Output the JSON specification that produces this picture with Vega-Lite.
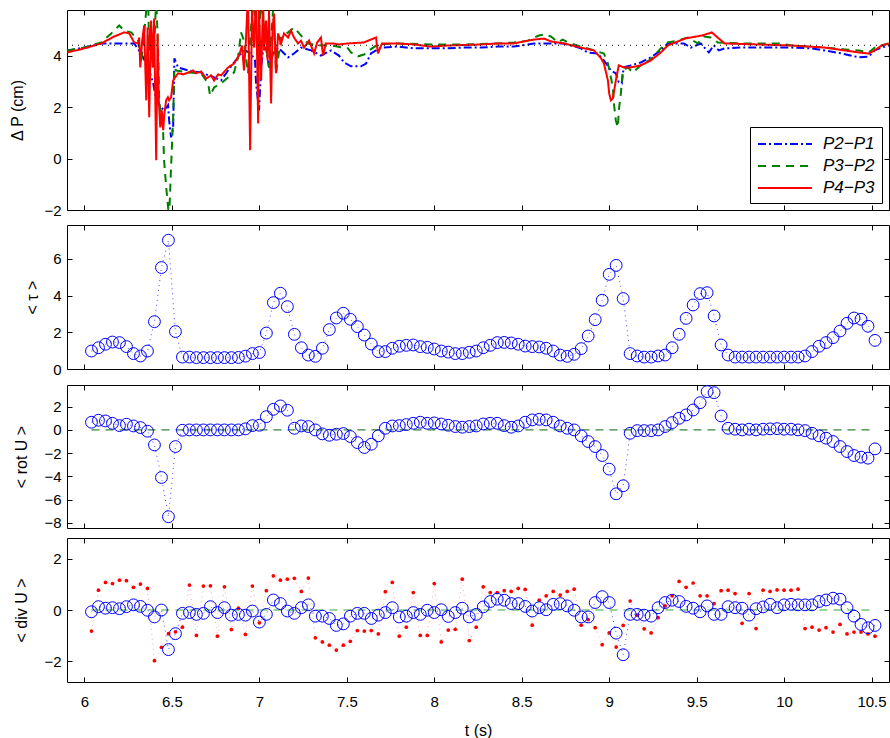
{
"$schema": "https://vega.github.io/schema/vega-lite/v6.json",
"padding": {"left": 8, "top": 9, "right": 1, "bottom": 2},
"config": {
 "font": "Liberation Sans",
 "view": {"stroke": "#000", "strokeWidth": 1},
 "concat": {"spacing": 5},
 "axis": {"grid": false, "domain": false, "ticks": true, "tickColor": "#000", "tickSize": -5, "tickWidth": 1, "labelColor": "#000", "labelFont": "Liberation Sans", "labelFontSize": 15, "labelFlush": false, "labelOverlap": false, "titleFont": "Liberation Sans", "titleFontSize": 16, "titleFontWeight": "normal", "titleColor": "#000", "format": "~g"},
 "axisX": {"labelPadding": 17, "titlePadding": 13},
 "axisY": {"labelPadding": 11, "titlePadding": 8}
},
"datasets": {
"p1": [
{"s":"P2−P1","t":5.901,"v":4.2},{"s":"P2−P1","t":6.0,"v":4.31},{"s":"P2−P1","t":6.095,"v":4.47},{"s":"P2−P1","t":6.21,"v":4.47},{"s":"P2−P1","t":6.284,"v":4.47},{"s":"P2−P1","t":6.324,"v":4.08},{"s":"P2−P1","t":6.364,"v":3.54},{"s":"P2−P1","t":6.393,"v":2.92},{"s":"P2−P1","t":6.41,"v":2.26},{"s":"P2−P1","t":6.438,"v":1.99},{"s":"P2−P1","t":6.455,"v":1.87},{"s":"P2−P1","t":6.478,"v":2.07},{"s":"P2−P1","t":6.484,"v":1.48},{"s":"P2−P1","t":6.495,"v":0.82},{"s":"P2−P1","t":6.507,"v":1.21},{"s":"P2−P1","t":6.514,"v":3.89},{"s":"P2−P1","t":6.535,"v":3.54},{"s":"P2−P1","t":6.593,"v":3.42},{"s":"P2−P1","t":6.667,"v":3.34},{"s":"P2−P1","t":6.741,"v":3.15},{"s":"P2−P1","t":6.781,"v":3.03},{"s":"P2−P1","t":6.821,"v":3.42},{"s":"P2−P1","t":6.855,"v":3.73},{"s":"P2−P1","t":6.895,"v":4.08},{"s":"P2−P1","t":6.918,"v":4.2},{"s":"P2−P1","t":6.952,"v":4.08},{"s":"P2−P1","t":6.975,"v":3.81},{"s":"P2−P1","t":6.981,"v":2.92},{"s":"P2−P1","t":6.998,"v":1.87},{"s":"P2−P1","t":7.01,"v":3.54},{"s":"P2−P1","t":7.021,"v":4.2},{"s":"P2−P1","t":7.038,"v":4.31},{"s":"P2−P1","t":7.055,"v":3.54},{"s":"P2−P1","t":7.078,"v":4.08},{"s":"P2−P1","t":7.107,"v":4.31},{"s":"P2−P1","t":7.124,"v":4.2},{"s":"P2−P1","t":7.164,"v":3.93},{"s":"P2−P1","t":7.198,"v":4.08},{"s":"P2−P1","t":7.238,"v":4.31},{"s":"P2−P1","t":7.295,"v":4.2},{"s":"P2−P1","t":7.352,"v":4.0},{"s":"P2−P1","t":7.41,"v":4.2},{"s":"P2−P1","t":7.455,"v":4.0},{"s":"P2−P1","t":7.484,"v":3.73},{"s":"P2−P1","t":7.524,"v":3.58},{"s":"P2−P1","t":7.581,"v":3.58},{"s":"P2−P1","t":7.61,"v":3.69},{"s":"P2−P1","t":7.638,"v":4.08},{"s":"P2−P1","t":7.695,"v":4.31},{"s":"P2−P1","t":7.792,"v":4.35},{"s":"P2−P1","t":7.884,"v":4.28},{"s":"P2−P1","t":7.981,"v":4.28},{"s":"P2−P1","t":8.078,"v":4.28},{"s":"P2−P1","t":8.17,"v":4.31},{"s":"P2−P1","t":8.267,"v":4.31},{"s":"P2−P1","t":8.364,"v":4.35},{"s":"P2−P1","t":8.455,"v":4.35},{"s":"P2−P1","t":8.57,"v":4.47},{"s":"P2−P1","t":8.627,"v":4.47},{"s":"P2−P1","t":8.741,"v":4.47},{"s":"P2−P1","t":8.838,"v":4.28},{"s":"P2−P1","t":8.878,"v":4.12},{"s":"P2−P1","t":8.935,"v":4.08},{"s":"P2−P1","t":8.97,"v":3.81},{"s":"P2−P1","t":9.01,"v":3.42},{"s":"P2−P1","t":9.038,"v":3.31},{"s":"P2−P1","t":9.055,"v":2.96},{"s":"P2−P1","t":9.072,"v":2.92},{"s":"P2−P1","t":9.083,"v":3.54},{"s":"P2−P1","t":9.124,"v":3.62},{"s":"P2−P1","t":9.181,"v":3.73},{"s":"P2−P1","t":9.238,"v":3.93},{"s":"P2−P1","t":9.295,"v":4.2},{"s":"P2−P1","t":9.335,"v":4.47},{"s":"P2−P1","t":9.427,"v":4.47},{"s":"P2−P1","t":9.467,"v":4.31},{"s":"P2−P1","t":9.524,"v":4.47},{"s":"P2−P1","t":9.57,"v":4.12},{"s":"P2−P1","t":9.598,"v":4.4},{"s":"P2−P1","t":9.627,"v":4.2},{"s":"P2−P1","t":9.661,"v":4.28},{"s":"P2−P1","t":9.753,"v":4.31},{"s":"P2−P1","t":9.855,"v":4.31},{"s":"P2−P1","t":10.044,"v":4.31},{"s":"P2−P1","t":10.158,"v":4.28},{"s":"P2−P1","t":10.233,"v":4.2},{"s":"P2−P1","t":10.33,"v":4.08},{"s":"P2−P1","t":10.427,"v":3.93},{"s":"P2−P1","t":10.484,"v":3.96},{"s":"P2−P1","t":10.518,"v":4.2},{"s":"P2−P1","t":10.558,"v":4.31},{"s":"P2−P1","t":10.598,"v":4.39},
{"s":"P3−P2","t":5.901,"v":4.2},{"s":"P3−P2","t":6.0,"v":4.31},{"s":"P3−P2","t":6.095,"v":4.51},{"s":"P3−P2","t":6.153,"v":4.86},{"s":"P3−P2","t":6.198,"v":5.17},{"s":"P3−P2","t":6.227,"v":4.97},{"s":"P3−P2","t":6.267,"v":4.9},{"s":"P3−P2","t":6.307,"v":4.58},{"s":"P3−P2","t":6.324,"v":3.69},{"s":"P3−P2","t":6.335,"v":4.4},{"s":"P3−P2","t":6.353,"v":5.75},{"s":"P3−P2","t":6.364,"v":6.2},{"s":"P3−P2","t":6.37,"v":4.2},{"s":"P3−P2","t":6.376,"v":5.1},{"s":"P3−P2","t":6.393,"v":3.54},{"s":"P3−P2","t":6.41,"v":6.2},{"s":"P3−P2","t":6.421,"v":4.2},{"s":"P3−P2","t":6.427,"v":2.26},{"s":"P3−P2","t":6.45,"v":0.98},{"s":"P3−P2","t":6.455,"v":-0.07},{"s":"P3−P2","t":6.467,"v":-1.1},{"s":"P3−P2","t":6.478,"v":-1.89},{"s":"P3−P2","t":6.484,"v":-2.3},{"s":"P3−P2","t":6.495,"v":-0.34},{"s":"P3−P2","t":6.507,"v":1.6},{"s":"P3−P2","t":6.514,"v":3.54},{"s":"P3−P2","t":6.524,"v":3.42},{"s":"P3−P2","t":6.593,"v":3.34},{"s":"P3−P2","t":6.667,"v":3.31},{"s":"P3−P2","t":6.707,"v":2.92},{"s":"P3−P2","t":6.718,"v":2.45},{"s":"P3−P2","t":6.741,"v":2.76},{"s":"P3−P2","t":6.781,"v":2.92},{"s":"P3−P2","t":6.855,"v":3.34},{"s":"P3−P2","t":6.878,"v":3.93},{"s":"P3−P2","t":6.895,"v":4.9},{"s":"P3−P2","t":6.912,"v":4.58},{"s":"P3−P2","t":6.935,"v":3.31},{"s":"P3−P2","t":6.952,"v":5.09},{"s":"P3−P2","t":6.97,"v":6.2},{"s":"P3−P2","t":6.99,"v":4.0},{"s":"P3−P2","t":7.01,"v":6.2},{"s":"P3−P2","t":7.035,"v":4.5},{"s":"P3−P2","t":7.055,"v":3.54},{"s":"P3−P2","t":7.078,"v":5.75},{"s":"P3−P2","t":7.09,"v":4.2},{"s":"P3−P2","t":7.095,"v":3.31},{"s":"P3−P2","t":7.124,"v":4.7},{"s":"P3−P2","t":7.164,"v":4.9},{"s":"P3−P2","t":7.198,"v":5.09},{"s":"P3−P2","t":7.278,"v":4.47},{"s":"P3−P2","t":7.33,"v":4.4},{"s":"P3−P2","t":7.41,"v":4.39},{"s":"P3−P2","t":7.507,"v":4.28},{"s":"P3−P2","t":7.524,"v":4.12},{"s":"P3−P2","t":7.564,"v":3.97},{"s":"P3−P2","t":7.598,"v":4.04},{"s":"P3−P2","t":7.627,"v":4.2},{"s":"P3−P2","t":7.678,"v":4.43},{"s":"P3−P2","t":7.792,"v":4.47},{"s":"P3−P2","t":7.981,"v":4.43},{"s":"P3−P2","t":8.17,"v":4.43},{"s":"P3−P2","t":8.364,"v":4.47},{"s":"P3−P2","t":8.455,"v":4.51},{"s":"P3−P2","t":8.536,"v":4.58},{"s":"P3−P2","t":8.598,"v":4.78},{"s":"P3−P2","t":8.627,"v":4.82},{"s":"P3−P2","t":8.667,"v":4.74},{"s":"P3−P2","t":8.707,"v":4.51},{"s":"P3−P2","t":8.735,"v":4.62},{"s":"P3−P2","t":8.764,"v":4.51},{"s":"P3−P2","t":8.838,"v":4.35},{"s":"P3−P2","t":8.913,"v":4.2},{"s":"P3−P2","t":8.97,"v":4.08},{"s":"P3−P2","t":8.993,"v":3.69},{"s":"P3−P2","t":9.01,"v":3.15},{"s":"P3−P2","t":9.021,"v":2.76},{"s":"P3−P2","t":9.027,"v":2.14},{"s":"P3−P2","t":9.038,"v":1.48},{"s":"P3−P2","t":9.05,"v":1.21},{"s":"P3−P2","t":9.055,"v":1.87},{"s":"P3−P2","t":9.067,"v":2.53},{"s":"P3−P2","t":9.078,"v":3.42},{"s":"P3−P2","t":9.107,"v":3.54},{"s":"P3−P2","t":9.135,"v":3.34},{"s":"P3−P2","t":9.181,"v":3.62},{"s":"P3−P2","t":9.238,"v":3.85},{"s":"P3−P2","t":9.295,"v":4.28},{"s":"P3−P2","t":9.335,"v":4.51},{"s":"P3−P2","t":9.392,"v":4.58},{"s":"P3−P2","t":9.45,"v":4.7},{"s":"P3−P2","t":9.507,"v":4.47},{"s":"P3−P2","t":9.541,"v":4.74},{"s":"P3−P2","t":9.581,"v":4.7},{"s":"P3−P2","t":9.621,"v":4.51},{"s":"P3−P2","t":9.753,"v":4.47},{"s":"P3−P2","t":9.855,"v":4.47},{"s":"P3−P2","t":9.969,"v":4.47},{"s":"P3−P2","t":10.044,"v":4.39},{"s":"P3−P2","t":10.233,"v":4.31},{"s":"P3−P2","t":10.347,"v":4.24},{"s":"P3−P2","t":10.427,"v":4.2},{"s":"P3−P2","t":10.484,"v":4.12},{"s":"P3−P2","t":10.518,"v":4.31},{"s":"P3−P2","t":10.558,"v":4.39},{"s":"P3−P2","t":10.598,"v":4.47},
{"s":"P4−P3","t":5.901,"v":4.12},{"s":"P4−P3","t":6.0,"v":4.28},{"s":"P4−P3","t":6.095,"v":4.47},{"s":"P4−P3","t":6.17,"v":4.74},{"s":"P4−P3","t":6.227,"v":4.9},{"s":"P4−P3","t":6.256,"v":4.86},{"s":"P4−P3","t":6.284,"v":4.51},{"s":"P4−P3","t":6.307,"v":4.47},{"s":"P4−P3","t":6.313,"v":4.7},{"s":"P4−P3","t":6.319,"v":3.54},{"s":"P4−P3","t":6.33,"v":4.59},{"s":"P4−P3","t":6.341,"v":5.17},{"s":"P4−P3","t":6.353,"v":2.26},{"s":"P4−P3","t":6.361,"v":5.09},{"s":"P4−P3","t":6.37,"v":1.6},{"s":"P4−P3","t":6.381,"v":5.36},{"s":"P4−P3","t":6.39,"v":3.54},{"s":"P4−P3","t":6.398,"v":5.44},{"s":"P4−P3","t":6.41,"v":-0.07},{"s":"P4−P3","t":6.418,"v":4.86},{"s":"P4−P3","t":6.425,"v":2.26},{"s":"P4−P3","t":6.433,"v":1.21},{"s":"P4−P3","t":6.442,"v":1.87},{"s":"P4−P3","t":6.45,"v":1.1},{"s":"P4−P3","t":6.457,"v":1.76},{"s":"P4−P3","t":6.467,"v":2.26},{"s":"P4−P3","t":6.477,"v":2.38},{"s":"P4−P3","t":6.484,"v":2.26},{"s":"P4−P3","t":6.495,"v":2.38},{"s":"P4−P3","t":6.507,"v":3.03},{"s":"P4−P3","t":6.514,"v":3.11},{"s":"P4−P3","t":6.535,"v":3.31},{"s":"P4−P3","t":6.564,"v":3.27},{"s":"P4−P3","t":6.593,"v":3.34},{"s":"P4−P3","t":6.62,"v":3.42},{"s":"P4−P3","t":6.638,"v":3.31},{"s":"P4−P3","t":6.667,"v":3.38},{"s":"P4−P3","t":6.695,"v":3.11},{"s":"P4−P3","t":6.724,"v":3.23},{"s":"P4−P3","t":6.741,"v":3.03},{"s":"P4−P3","t":6.764,"v":3.27},{"s":"P4−P3","t":6.781,"v":3.23},{"s":"P4−P3","t":6.821,"v":3.54},{"s":"P4−P3","t":6.855,"v":3.69},{"s":"P4−P3","t":6.884,"v":4.0},{"s":"P4−P3","t":6.901,"v":4.39},{"s":"P4−P3","t":6.912,"v":3.42},{"s":"P4−P3","t":6.924,"v":4.7},{"s":"P4−P3","t":6.935,"v":6.5},{"s":"P4−P3","t":6.947,"v":0.32},{"s":"P4−P3","t":6.958,"v":5.75},{"s":"P4−P3","t":6.97,"v":4.31},{"s":"P4−P3","t":6.981,"v":6.5},{"s":"P4−P3","t":6.993,"v":1.36},{"s":"P4−P3","t":6.998,"v":5.86},{"s":"P4−P3","t":7.01,"v":3.03},{"s":"P4−P3","t":7.021,"v":6.3},{"s":"P4−P3","t":7.027,"v":4.2},{"s":"P4−P3","t":7.038,"v":5.36},{"s":"P4−P3","t":7.047,"v":3.81},{"s":"P4−P3","t":7.055,"v":5.75},{"s":"P4−P3","t":7.067,"v":2.14},{"s":"P4−P3","t":7.075,"v":4.97},{"s":"P4−P3","t":7.084,"v":5.63},{"s":"P4−P3","t":7.095,"v":3.31},{"s":"P4−P3","t":7.107,"v":4.86},{"s":"P4−P3","t":7.124,"v":4.47},{"s":"P4−P3","t":7.141,"v":4.86},{"s":"P4−P3","t":7.164,"v":4.7},{"s":"P4−P3","t":7.181,"v":4.97},{"s":"P4−P3","t":7.198,"v":4.7},{"s":"P4−P3","t":7.221,"v":4.47},{"s":"P4−P3","t":7.238,"v":4.58},{"s":"P4−P3","t":7.255,"v":4.31},{"s":"P4−P3","t":7.284,"v":4.58},{"s":"P4−P3","t":7.313,"v":4.08},{"s":"P4−P3","t":7.33,"v":4.5},{"s":"P4−P3","t":7.352,"v":4.7},{"s":"P4−P3","t":7.364,"v":4.0},{"s":"P4−P3","t":7.38,"v":4.47},{"s":"P4−P3","t":7.421,"v":4.47},{"s":"P4−P3","t":7.455,"v":4.43},{"s":"P4−P3","t":7.507,"v":4.47},{"s":"P4−P3","t":7.598,"v":4.51},{"s":"P4−P3","t":7.667,"v":4.7},{"s":"P4−P3","t":7.678,"v":4.08},{"s":"P4−P3","t":7.701,"v":4.47},{"s":"P4−P3","t":7.792,"v":4.47},{"s":"P4−P3","t":7.884,"v":4.43},{"s":"P4−P3","t":7.981,"v":4.35},{"s":"P4−P3","t":8.078,"v":4.39},{"s":"P4−P3","t":8.17,"v":4.41},{"s":"P4−P3","t":8.267,"v":4.43},{"s":"P4−P3","t":8.364,"v":4.47},{"s":"P4−P3","t":8.455,"v":4.47},{"s":"P4−P3","t":8.513,"v":4.55},{"s":"P4−P3","t":8.57,"v":4.62},{"s":"P4−P3","t":8.627,"v":4.66},{"s":"P4−P3","t":8.667,"v":4.55},{"s":"P4−P3","t":8.741,"v":4.47},{"s":"P4−P3","t":8.838,"v":4.31},{"s":"P4−P3","t":8.913,"v":4.2},{"s":"P4−P3","t":8.953,"v":3.9},{"s":"P4−P3","t":8.97,"v":3.69},{"s":"P4−P3","t":8.993,"v":3.03},{"s":"P4−P3","t":9.0,"v":2.53},{"s":"P4−P3","t":9.01,"v":2.26},{"s":"P4−P3","t":9.021,"v":2.33},{"s":"P4−P3","t":9.038,"v":3.03},{"s":"P4−P3","t":9.055,"v":3.62},{"s":"P4−P3","t":9.083,"v":3.54},{"s":"P4−P3","t":9.124,"v":3.54},{"s":"P4−P3","t":9.181,"v":3.62},{"s":"P4−P3","t":9.238,"v":3.81},{"s":"P4−P3","t":9.295,"v":4.12},{"s":"P4−P3","t":9.335,"v":4.39},{"s":"P4−P3","t":9.433,"v":4.66},{"s":"P4−P3","t":9.53,"v":4.78},{"s":"P4−P3","t":9.57,"v":4.86},{"s":"P4−P3","t":9.587,"v":4.9},{"s":"P4−P3","t":9.627,"v":4.66},{"s":"P4−P3","t":9.661,"v":4.47},{"s":"P4−P3","t":9.855,"v":4.43},{"s":"P4−P3","t":10.044,"v":4.39},{"s":"P4−P3","t":10.233,"v":4.31},{"s":"P4−P3","t":10.347,"v":4.2},{"s":"P4−P3","t":10.427,"v":4.12},{"s":"P4−P3","t":10.484,"v":4.08},{"s":"P4−P3","t":10.518,"v":4.2},{"s":"P4−P3","t":10.558,"v":4.39},{"s":"P4−P3","t":10.598,"v":4.47}
],
"c": [
{"t":6.04,"tau":0.98,"rot":0.66,"div":-0.07,"red":-0.82},
{"t":6.08,"tau":1.16,"rot":0.83,"div":0.13,"red":0.77},
{"t":6.12,"tau":1.35,"rot":0.77,"div":0.07,"red":1.07},
{"t":6.16,"tau":1.47,"rot":0.57,"div":0.09,"red":1.03},
{"t":6.20,"tau":1.44,"rot":0.37,"div":0.05,"red":1.16},
{"t":6.24,"tau":1.22,"rot":0.49,"div":0.13,"red":1.14},
{"t":6.28,"tau":0.84,"rot":0.34,"div":0.2,"red":0.88},
{"t":6.32,"tau":0.71,"rot":0.2,"div":0.14,"red":1.01},
{"t":6.36,"tau":0.98,"rot":-0.11,"div":-0.01,"red":0.84},
{"t":6.40,"tau":2.58,"rot":-1.29,"div":-0.27,"red":-1.97},
{"t":6.44,"tau":5.53,"rot":-4.09,"div":0,"red":-1.45},
{"t":6.48,"tau":7.02,"rot":-7.46,"div":-1.54,"red":-0.92},
{"t":6.52,"tau":2.04,"rot":-1.43,"div":-0.92,"red":-0.85},
{"t":6.56,"tau":0.65,"rot":-0.03,"div":-0.13,"red":-0.67},
{"t":6.60,"tau":0.65,"rot":0,"div":-0.1,"red":0.97},
{"t":6.64,"tau":0.62,"rot":0,"div":-0.17,"red":-0.99},
{"t":6.68,"tau":0.62,"rot":0,"div":-0.13,"red":0.93},
{"t":6.72,"tau":0.62,"rot":0,"div":0.13,"red":0.94},
{"t":6.76,"tau":0.62,"rot":0,"div":-0.1,"red":-1.02},
{"t":6.80,"tau":0.62,"rot":0,"div":0.09,"red":0.9},
{"t":6.84,"tau":0.62,"rot":0,"div":-0.2,"red":-0.76},
{"t":6.88,"tau":0.63,"rot":0,"div":-0.17,"red":0.07},
{"t":6.92,"tau":0.7,"rot":0.09,"div":-0.2,"red":-0.95},
{"t":6.96,"tau":0.84,"rot":0.37,"div":-0.04,"red":0.93},
{"t":7.00,"tau":0.9,"rot":0.4,"div":-0.47,"red":-0.5},
{"t":7.04,"tau":1.96,"rot":1.14,"div":-0.17,"red":0.75},
{"t":7.08,"tau":3.62,"rot":1.77,"div":0.39,"red":1.33},
{"t":7.12,"tau":4.13,"rot":2.06,"div":0.25,"red":1.16},
{"t":7.16,"tau":3.4,"rot":1.69,"div":-0.04,"red":1.2},
{"t":7.20,"tau":1.89,"rot":0.14,"div":-0.13,"red":1.23},
{"t":7.24,"tau":1.16,"rot":0.34,"div":0.09,"red":0.72},
{"t":7.28,"tau":0.76,"rot":0.29,"div":0.2,"red":1.24},
{"t":7.32,"tau":0.69,"rot":0,"div":-0.24,"red":-1.08},
{"t":7.36,"tau":1.13,"rot":-0.34,"div":-0.24,"red":-1.24},
{"t":7.40,"tau":2.15,"rot":-0.46,"div":-0.33,"red":-1.37},
{"t":7.44,"tau":2.78,"rot":-0.37,"div":-0.6,"red":-1.56},
{"t":7.48,"tau":3.04,"rot":-0.31,"div":-0.54,"red":-1.37},
{"t":7.52,"tau":2.71,"rot":-0.57,"div":-0.24,"red":-1.22},
{"t":7.56,"tau":2.31,"rot":-1.09,"div":-0.13,"red":-0.8},
{"t":7.60,"tau":1.85,"rot":-1.51,"div":-0.13,"red":-0.82},
{"t":7.64,"tau":1.36,"rot":-1.23,"div":-0.33,"red":-0.8},
{"t":7.68,"tau":0.95,"rot":-0.51,"div":-0.2,"red":-0.93},
{"t":7.72,"tau":0.95,"rot":0.14,"div":-0.1,"red":0.71},
{"t":7.76,"tau":1.13,"rot":0.34,"div":0.09,"red":1.07},
{"t":7.80,"tau":1.24,"rot":0.37,"div":-0.27,"red":-1.02},
{"t":7.84,"tau":1.29,"rot":0.46,"div":-0.24,"red":-0.67},
{"t":7.88,"tau":1.31,"rot":0.57,"div":-0.1,"red":0.68},
{"t":7.92,"tau":1.22,"rot":0.66,"div":-0.17,"red":-0.99},
{"t":7.96,"tau":1.18,"rot":0.57,"div":-0.01,"red":-0.99},
{"t":8.00,"tau":1.09,"rot":0.6,"div":-0.1,"red":1.03},
{"t":8.04,"tau":0.98,"rot":0.51,"div":0.01,"red":-1.24},
{"t":8.08,"tau":0.92,"rot":0.4,"div":-0.25,"red":-0.78},
{"t":8.12,"tau":0.84,"rot":0.29,"div":-0.1,"red":-0.75},
{"t":8.16,"tau":0.84,"rot":0.23,"div":0.07,"red":1.2},
{"t":8.20,"tau":0.91,"rot":0.29,"div":-0.27,"red":-1.19},
{"t":8.24,"tau":0.98,"rot":0.34,"div":-0.17,"red":-0.67},
{"t":8.28,"tau":1.16,"rot":0.51,"div":0.12,"red":0.9},
{"t":8.32,"tau":1.29,"rot":0.57,"div":0.33,"red":0.68},
{"t":8.36,"tau":1.44,"rot":0.57,"div":0.42,"red":0.68},
{"t":8.40,"tau":1.45,"rot":0.37,"div":0.38,"red":0.75},
{"t":8.44,"tau":1.42,"rot":0.23,"div":0.25,"red":0.72},
{"t":8.48,"tau":1.35,"rot":0.34,"div":0.25,"red":0.84},
{"t":8.52,"tau":1.25,"rot":0.66,"div":0.14,"red":0.8},
{"t":8.56,"tau":1.22,"rot":0.86,"div":-0.04,"red":-0.59},
{"t":8.60,"tau":1.2,"rot":0.91,"div":0.09,"red":0.38},
{"t":8.64,"tau":1.13,"rot":0.86,"div":0.01,"red":0.55},
{"t":8.68,"tau":0.98,"rot":0.66,"div":0.22,"red":0.72},
{"t":8.72,"tau":0.76,"rot":0.34,"div":0.25,"red":0.58},
{"t":8.76,"tau":0.69,"rot":0.14,"div":0.16,"red":0.72},
{"t":8.80,"tau":0.8,"rot":0,"div":-0.01,"red":0.81},
{"t":8.84,"tau":1.11,"rot":-0.51,"div":-0.27,"red":-0.59},
{"t":8.88,"tau":1.8,"rot":-1.0,"div":-0.27,"red":-0.37},
{"t":8.92,"tau":2.69,"rot":-1.43,"div":0.29,"red":-0.69},
{"t":8.96,"tau":3.75,"rot":-2.2,"div":0.52,"red":-1.35},
{"t":9.00,"tau":5.16,"rot":-3.37,"div":0.29,"red":-0.89},
{"t":9.04,"tau":5.65,"rot":-5.49,"div":-0.9,"red":-1.44},
{"t":9.08,"tau":3.84,"rot":-4.8,"div":-1.74,"red":-0.6},
{"t":9.12,"tau":0.84,"rot":-0.29,"div":-0.17,"red":0.35},
{"t":9.16,"tau":0.71,"rot":-0.06,"div":-0.17,"red":-0.2},
{"t":9.20,"tau":0.65,"rot":-0.06,"div":-0.2,"red":-0.73},
{"t":9.24,"tau":0.65,"rot":-0.06,"div":-0.24,"red":-0.89},
{"t":9.28,"tau":0.71,"rot":0,"div":0.09,"red":-0.3},
{"t":9.32,"tau":0.76,"rot":0.29,"div":0.29,"red":0.16},
{"t":9.36,"tau":1.16,"rot":0.63,"div":0.38,"red":0.55},
{"t":9.40,"tau":1.89,"rot":1.0,"div":0.33,"red":1.11},
{"t":9.44,"tau":2.76,"rot":1.29,"div":0.14,"red":0.88},
{"t":9.48,"tau":3.49,"rot":1.71,"div":0.07,"red":1.05},
{"t":9.52,"tau":4.11,"rot":2.34,"div":-0.07,"red":0.55},
{"t":9.56,"tau":4.16,"rot":3.29,"div":0.16,"red":0.55},
{"t":9.60,"tau":2.89,"rot":3.2,"div":-0.17,"red":0.25},
{"t":9.64,"tau":1.31,"rot":1.2,"div":-0.17,"red":0.75},
{"t":9.68,"tau":0.76,"rot":0.14,"div":0.13,"red":0.77},
{"t":9.72,"tau":0.65,"rot":0.06,"div":0.09,"red":0.64},
{"t":9.76,"tau":0.65,"rot":0,"div":0.07,"red":-0.52},
{"t":9.80,"tau":0.65,"rot":0.06,"div":-0.2,"red":0.64},
{"t":9.84,"tau":0.65,"rot":0,"div":0.05,"red":-0.72},
{"t":9.88,"tau":0.65,"rot":0.06,"div":0.12,"red":0.77},
{"t":9.92,"tau":0.65,"rot":0.09,"div":0.22,"red":0.72},
{"t":9.96,"tau":0.65,"rot":0.11,"div":0.09,"red":0.78},
{"t":10.00,"tau":0.65,"rot":0.06,"div":0.2,"red":0.77},
{"t":10.04,"tau":0.65,"rot":0.06,"div":0.22,"red":0.77},
{"t":10.08,"tau":0.65,"rot":0,"div":0.2,"red":0.81},
{"t":10.12,"tau":0.71,"rot":-0.06,"div":0.2,"red":-0.72},
{"t":10.16,"tau":0.95,"rot":-0.29,"div":0.2,"red":-0.67},
{"t":10.20,"tau":1.24,"rot":-0.51,"div":0.33,"red":-0.78},
{"t":10.24,"tau":1.44,"rot":-0.71,"div":0.39,"red":-0.69},
{"t":10.28,"tau":1.71,"rot":-1.0,"div":0.46,"red":-0.86},
{"t":10.32,"tau":2.07,"rot":-1.43,"div":0.42,"red":-0.56},
{"t":10.36,"tau":2.49,"rot":-1.86,"div":0.09,"red":-0.93},
{"t":10.40,"tau":2.78,"rot":-2.2,"div":-0.24,"red":-0.86},
{"t":10.44,"tau":2.71,"rot":-2.34,"div":-0.56,"red":-0.86},
{"t":10.48,"tau":2.33,"rot":-2.43,"div":-0.69,"red":-0.93},
{"t":10.52,"tau":1.56,"rot":-1.63,"div":-0.6,"red":-1.02}
]
},
"vconcat": [
{
 "width": 822, "height": 200,
 "layer": [
  {"data": {"name": "p1"},
   "mark": {"type": "line", "clip": true, "strokeWidth": 2},
   "encoding": {
    "x": {"field": "t", "type": "quantitative", "scale": {"domain": [5.9, 10.6], "nice": false, "zero": false}, "axis": {"values": [6,6.5,7,7.5,8,8.5,9,9.5,10,10.5], "labels": false, "title": null}},
    "y": {"field": "v", "type": "quantitative", "scale": {"domain": [-2, 5.77], "nice": false, "zero": false}, "axis": {"values": [-2,0,2,4], "title": "Δ P (cm)", "titleX": -42}},
    "color": {"field": "s", "type": "nominal", "scale": {"domain": ["P2−P1","P3−P2","P4−P3"], "range": ["#0000ff","#008000","#ff0000"]},
      "legend": {"orient": "none", "legendX": 683, "legendY": 117, "title": null, "symbolType": "M-1,0L5,0", "symbolSize": 324, "symbolStrokeWidth": 2, "labelFontSize": 17, "labelFontStyle": "italic", "labelFont": "Liberation Sans", "labelColor": "#000", "strokeColor": "#000", "fillColor": "#fff", "padding": 7, "rowPadding": 4, "labelOffset": 46, "cornerRadius": 0}},
    "strokeDash": {"field": "s", "type": "nominal", "scale": {"domain": ["P2−P1","P3−P2","P4−P3"], "range": [[8,3,2,3],[8,6],[1,0]]},
      "legend": {"orient": "none", "legendX": 683, "legendY": 117, "title": null, "symbolType": "M-1,0L5,0", "symbolSize": 324, "symbolStrokeWidth": 2, "labelFontSize": 17, "labelFontStyle": "italic", "labelFont": "Liberation Sans", "labelColor": "#000", "strokeColor": "#000", "fillColor": "#fff", "padding": 7, "rowPadding": 4, "labelOffset": 46, "cornerRadius": 0}}
   }},
  {"data": {"values": [{}]},
   "mark": {"type": "rule", "color": "#000", "strokeDash": [1, 5], "strokeWidth": 1},
   "encoding": {"y": {"datum": 4.4, "type": "quantitative", "axis": null}}},
  {"data": {"values": [{}]},
   "mark": {"type": "point", "opacity": 0},
   "encoding": {
    "x": {"datum": 8, "type": "quantitative", "axis": {"orient": "top", "labels": false, "title": null, "values": [6,6.5,7,7.5,8,8.5,9,9.5,10,10.5]}},
    "y": {"datum": 0, "type": "quantitative", "axis": {"orient": "right", "labels": false, "title": null, "values": [-2,0,2,4]}}
   }}
 ],
 "resolve": {"axis": {"x": "independent", "y": "independent"}}
},
{
 "width": 822, "height": 144,
 "data": {"name": "c"},
 "layer": [
  {"mark": {"type": "line", "color": "#0000ff", "strokeWidth": 1, "strokeDash": [1, 4], "opacity": 0.7},
   "encoding": {"x": {"field": "t", "type": "quantitative", "axis": null}, "y": {"field": "tau", "type": "quantitative", "axis": null}}},
  {"mark": {"type": "point", "shape": "circle", "filled": false, "color": "#0000ff", "size": 140, "strokeWidth": 1, "opacity": 1},
   "encoding": {
    "x": {"field": "t", "type": "quantitative", "scale": {"domain": [5.9, 10.6], "nice": false, "zero": false}, "axis": {"values": [6,6.5,7,7.5,8,8.5,9,9.5,10,10.5], "labels": false, "title": null}},
    "y": {"field": "tau", "type": "quantitative", "scale": {"domain": [0, 7.85], "nice": false, "zero": false}, "axis": {"values": [0,2,4,6], "title": "< τ >", "titleX": -27}}
   }},
  {"data": {"values": [{}]},
   "mark": {"type": "point", "opacity": 0},
   "encoding": {
    "x": {"datum": 8, "type": "quantitative", "axis": {"orient": "top", "labels": false, "title": null, "values": [6,6.5,7,7.5,8,8.5,9,9.5,10,10.5]}},
    "y": {"datum": 1, "type": "quantitative", "axis": {"orient": "right", "labels": false, "title": null, "values": [0,2,4,6]}}
   }}
 ],
 "resolve": {"axis": {"x": "independent", "y": "independent"}}
},
{
 "width": 822, "height": 143,
 "data": {"name": "c"},
 "layer": [
  {"data": {"values": [{}]},
   "mark": {"type": "rule", "color": "#006400", "strokeDash": [8, 6], "strokeWidth": 1},
   "encoding": {"x": {"datum": 6.04, "type": "quantitative", "axis": null}, "x2": {"datum": 10.52}, "y": {"datum": 0, "type": "quantitative", "axis": null}}},
  {"mark": {"type": "line", "color": "#0000ff", "strokeWidth": 1, "strokeDash": [1, 4], "opacity": 0.7},
   "encoding": {"x": {"field": "t", "type": "quantitative", "axis": null}, "y": {"field": "rot", "type": "quantitative", "axis": null}}},
  {"mark": {"type": "point", "shape": "circle", "filled": false, "color": "#0000ff", "size": 140, "strokeWidth": 1, "opacity": 1},
   "encoding": {
    "x": {"field": "t", "type": "quantitative", "scale": {"domain": [5.9, 10.6], "nice": false, "zero": false}, "axis": {"values": [6,6.5,7,7.5,8,8.5,9,9.5,10,10.5], "labels": false, "title": null}},
    "y": {"field": "rot", "type": "quantitative", "scale": {"domain": [-8.43, 3.86], "nice": false, "zero": false}, "axis": {"values": [-8,-6,-4,-2,0,2], "title": "< rot U >", "titleX": -38}}
   }},
  {"data": {"values": [{}]},
   "mark": {"type": "point", "opacity": 0},
   "encoding": {
    "x": {"datum": 8, "type": "quantitative", "axis": {"orient": "top", "labels": false, "title": null, "values": [6,6.5,7,7.5,8,8.5,9,9.5,10,10.5]}},
    "y": {"datum": 0, "type": "quantitative", "axis": {"orient": "right", "labels": false, "title": null, "values": [-8,-6,-4,-2,0,2]}}
   }}
 ],
 "resolve": {"axis": {"x": "independent", "y": "independent"}}
},
{
 "width": 822, "height": 144,
 "data": {"name": "c"},
 "layer": [
  {"data": {"values": [{}]},
   "mark": {"type": "rule", "color": "#33aa33", "strokeDash": [8, 6], "strokeWidth": 1},
   "encoding": {"x": {"datum": 6.04, "type": "quantitative", "axis": null}, "x2": {"datum": 10.52}, "y": {"datum": 0, "type": "quantitative", "axis": null}}},
  {"mark": {"type": "line", "color": "#ff0000", "strokeWidth": 1, "strokeDash": [1, 4], "opacity": 0.35},
   "encoding": {"x": {"field": "t", "type": "quantitative", "axis": null}, "y": {"field": "red", "type": "quantitative", "axis": null}}},
  {"mark": {"type": "point", "shape": "circle", "filled": true, "color": "#ff0000", "size": 14, "opacity": 1},
   "encoding": {"x": {"field": "t", "type": "quantitative", "axis": null}, "y": {"field": "red", "type": "quantitative", "axis": null}}},
  {"mark": {"type": "line", "color": "#0000ff", "strokeWidth": 1, "strokeDash": [1, 4], "opacity": 0.7},
   "encoding": {"x": {"field": "t", "type": "quantitative", "axis": null}, "y": {"field": "div", "type": "quantitative", "axis": null}}},
  {"mark": {"type": "point", "shape": "circle", "filled": false, "color": "#0000ff", "size": 140, "strokeWidth": 1, "opacity": 1},
   "encoding": {
    "x": {"field": "t", "type": "quantitative", "scale": {"domain": [5.9, 10.6], "nice": false, "zero": false}, "axis": {"values": [6,6.5,7,7.5,8,8.5,9,9.5,10,10.5], "title": "t (s)"}},
    "y": {"field": "div", "type": "quantitative", "scale": {"domain": [-2.8, 2.8], "nice": false, "zero": false}, "axis": {"values": [-2,0,2], "title": "< div U >", "titleX": -38}}
   }},
  {"data": {"values": [{}]},
   "mark": {"type": "point", "opacity": 0},
   "encoding": {
    "x": {"datum": 8, "type": "quantitative", "axis": {"orient": "top", "labels": false, "title": null, "values": [6,6.5,7,7.5,8,8.5,9,9.5,10,10.5]}},
    "y": {"datum": 0, "type": "quantitative", "axis": {"orient": "right", "labels": false, "title": null, "values": [-2,0,2]}}
   }}
 ],
 "resolve": {"axis": {"x": "independent", "y": "independent"}}
}
]
}
